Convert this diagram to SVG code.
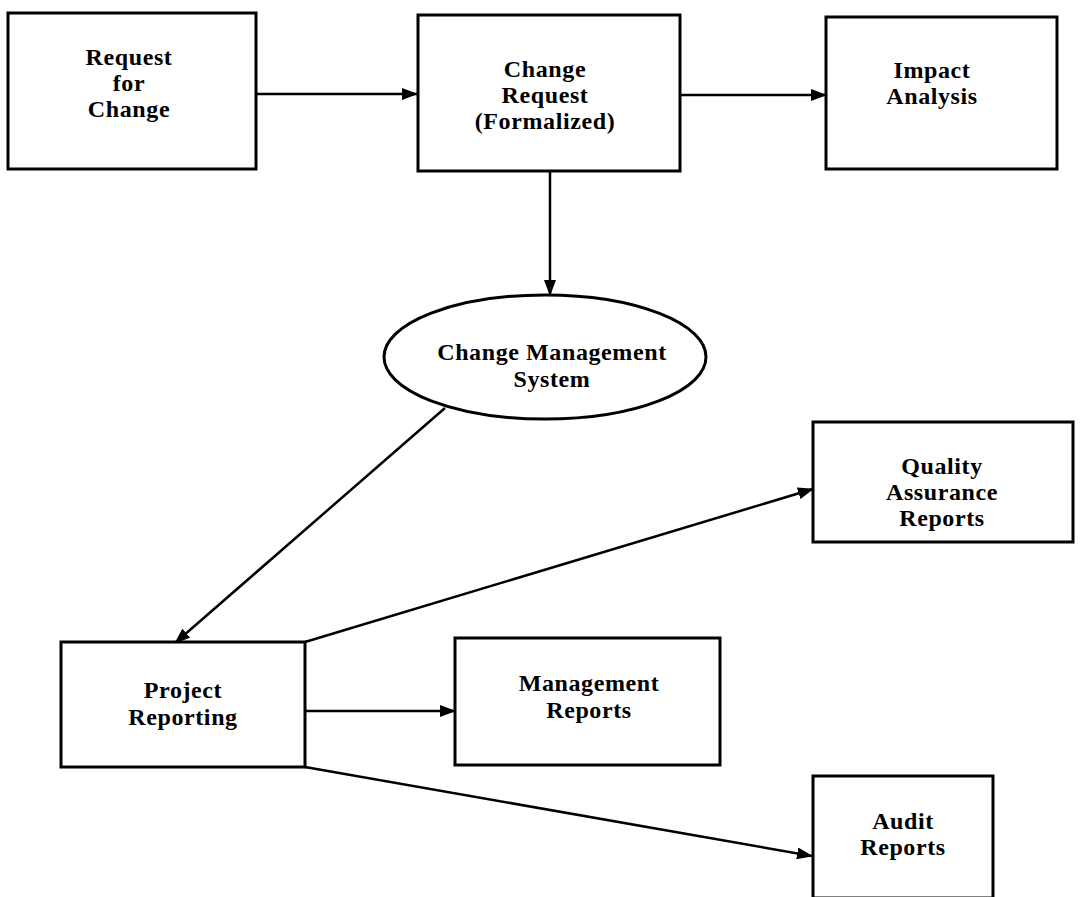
<svg xmlns="http://www.w3.org/2000/svg" width="1082" height="897" viewBox="0 0 1082 897">
  <style>
    .box { fill: #ffffff; stroke: #000000; stroke-width: 3; }
    .lbl { font-family: "Liberation Serif", "Times New Roman", serif; font-weight: bold; font-size: 24px; letter-spacing: 0.6px; fill: #000000; text-anchor: middle; }
    .edge { fill: none; stroke: #000000; stroke-width: 2.5; marker-end: url(#arrow); }
  </style>
  <defs>
    <marker id="arrow" markerUnits="userSpaceOnUse" markerWidth="16" markerHeight="12" viewBox="0 0 16 12" refX="15" refY="6" orient="auto">
      <path d="M0,0 L16,6 L0,12 Z" fill="#000000"/>
    </marker>
  </defs>
  <rect width="1082" height="897" fill="#ffffff"/>

  <!-- connectors -->
  <g id="connectors">
    <line class="edge" x1="256" y1="94" x2="417" y2="94"/>
    <line class="edge" x1="680" y1="95" x2="826" y2="95"/>
    <line class="edge" x1="550" y1="171" x2="550" y2="295"/>
    <line class="edge" x1="445" y1="408" x2="175" y2="643"/>
    <line class="edge" x1="305" y1="642" x2="813" y2="489"/>
    <line class="edge" x1="305" y1="711" x2="455" y2="711"/>
    <line class="edge" x1="305" y1="767" x2="812" y2="856"/>
  </g>

  <g id="request-for-change">
    <rect class="box" x="8" y="13" width="248" height="156"/>
    <text class="lbl" x="129" y="65">Request</text>
    <text class="lbl" x="129" y="91">for</text>
    <text class="lbl" x="129" y="117">Change</text>
  </g>

  <g id="change-request">
    <rect class="box" x="418" y="15" width="262" height="156"/>
    <text class="lbl" x="545" y="77">Change</text>
    <text class="lbl" x="545" y="103">Request</text>
    <text class="lbl" x="545" y="129">(Formalized)</text>
  </g>

  <g id="impact-analysis">
    <rect class="box" x="826" y="17" width="231" height="152"/>
    <text class="lbl" x="932" y="78">Impact</text>
    <text class="lbl" x="932" y="104">Analysis</text>
  </g>

  <g id="change-management-system">
    <ellipse class="box" cx="545" cy="357" rx="161" ry="62"/>
    <text class="lbl" x="552" y="360">Change  Management</text>
    <text class="lbl" x="552" y="387">System</text>
  </g>

  <g id="quality-assurance-reports">
    <rect class="box" x="813" y="422" width="260" height="120"/>
    <text class="lbl" x="942" y="474">Quality</text>
    <text class="lbl" x="942" y="500">Assurance</text>
    <text class="lbl" x="942" y="526">Reports</text>
  </g>

  <g id="project-reporting">
    <rect class="box" x="61" y="642" width="244" height="125"/>
    <text class="lbl" x="183" y="698">Project</text>
    <text class="lbl" x="183" y="725">Reporting</text>
  </g>

  <g id="management-reports">
    <rect class="box" x="455" y="638" width="265" height="127"/>
    <text class="lbl" x="589" y="691">Management</text>
    <text class="lbl" x="589" y="718">Reports</text>
  </g>

  <g id="audit-reports">
    <rect class="box" x="813" y="776" width="180" height="122"/>
    <text class="lbl" x="903" y="829">Audit</text>
    <text class="lbl" x="903" y="855">Reports</text>
  </g>
</svg>
